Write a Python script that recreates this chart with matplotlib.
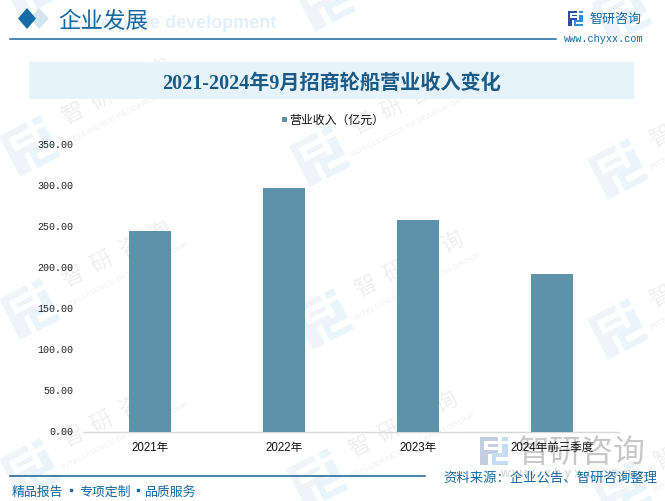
import matplotlib
matplotlib.use('Agg')
import matplotlib.pyplot as plt
from matplotlib.patches import Polygon, Rectangle
from matplotlib.transforms import Affine2D, ScaledTranslation

plt.rcParams['font.family'] = ['Noto Sans CJK SC', 'DejaVu Sans']

categories = ['2021年', '2022年', '2023年', '2024年前三季度']
revenue = [243.5, 297, 258, 192.3]
y_ticks = [0, 50, 100, 150, 200, 250, 300, 350]
legend_name = '营业收入（亿元）'
title = '2021-2024年9月招商轮船营业收入变化'

# logo centres of the faint repeated watermark
marks = [(30, 147), (320, 157), (618, 170),
         (30, 310), (323, 320), (618, 330),
         (30, 470), (317, 480), (622, 492)]
top_logos = [(30, -12), (325, 2), (622, 14)]

BLUE = '#15689f'
BAR = '#5e92aa'

fig = plt.figure(figsize=(6.65, 5.02), dpi=100)
bg = fig.add_axes([0, 0, 1, 1])
bg.set_xlim(0, 665)
bg.set_ylim(502, 0)
bg.axis('off')


def logo(x, y, s, c1, c2, rot=0, z=1):
    # brand mark: dark bracket on the left, lighter pieces on the right
    tr = Affine2D().translate(-.5, -.5).scale(s).rotate_deg(rot).translate(x, y) + bg.transData
    left = [[(0, 0), (.66, 0), (.66, .14), (.16, .14), (.16, .46), (.66, .46), (.66, .6), (.3, .6), (.3, 1), (0, 1)],
            [(.28, .26), (.66, .26), (.66, .36), (.28, .36)]]
    right = [[(.78, 0), (1, 0), (1, .16), (.78, .16)],
             [(.78, .26), (1, .26), (1, .72), (.56, .72), (.56, .86), (1, .86), (1, 1), (.42, 1), (.42, .58), (.78, .58)]]
    for p in left:
        bg.add_patch(Polygon(p, closed=True, fc=c1, ec='none', transform=tr, zorder=z))
    for p in right:
        bg.add_patch(Polygon(p, closed=True, fc=c2, ec='none', transform=tr, zorder=z))


for mx, my in top_logos:
    logo(mx, my, 46, '#f0f4f8', '#eaf5fb', rot=-27)
for mx, my in marks:
    logo(mx, my, 46, '#f0f4f8', '#eaf5fb', rot=-27)
    bg.text(mx + 87, my - 55, '智  研  咨  询', fontsize=16, color='#efefef', rotation=27, ha='center', va='center',
            zorder=1, rotation_mode='anchor')
    bg.text(mx + 95, my - 33, 'INTELLIGENCE RESEARCH GROUP', fontsize=6, color='#f0f0f0', rotation=27,
            ha='center', va='center', family='Liberation Sans', zorder=1, rotation_mode='anchor')

# header
bg.add_patch(Polygon([(39, 9), (49, 19.5), (39, 30), (30, 19.5)], fc='#d5e5ef', ec='none', zorder=2))
bg.add_patch(Polygon([(27, 9), (36, 19.5), (27, 30), (18, 19.5)], fc='#136ca6', ec='none', zorder=3))
bg.text(276, 24, 'Enterprise development', fontsize=13, color='#e3f0fa', fontweight='bold',
        family='Liberation Sans', ha='right', va='center', zorder=2)
bg.text(58, 21.5, '企业发展', fontsize=16.2, color=BLUE, va='center', zorder=3)
bg.plot([10, 556], [40, 40], color=BLUE, lw=1.1, zorder=3)
logo(575, 19.5, 15, '#2b4f9e', '#2f8fd6', z=3)
bg.text(590, 19, '智研咨询', fontsize=9.4, color=BLUE, va='center', zorder=3)
bg.text(604, 39, 'www.chyxx.com', fontsize=7.3, color=BLUE, family='Liberation Mono', ha='center', va='center', zorder=3)

# title band
bg.add_patch(Rectangle((29, 63), 605, 37, fc='#e6f3fb', ec='none', zorder=2))
bg.text(331.5, 84, title, fontsize=14.5, color='#1b5a86', fontweight='bold', ha='center', va='center', zorder=3,
        family=['Liberation Serif', 'Noto Sans CJK SC'])

# footer
bg.plot([10, 425], [477, 477], color='#15608f', lw=1.1, zorder=3)
for fx, part in zip([12, 79, 145], ['精品报告', '专项定制', '品质服务']):
    bg.text(fx, 492, part, fontsize=9.3, color=BLUE, va='center', zorder=3)
for fx in [71, 138]:
    bg.plot([fx], [491], marker='s', ms=1.6, color=BLUE, zorder=3)
logo(494, 452, 28, '#c3cfe0', '#c5def2', z=2)
bg.text(518, 453, '智研咨询', fontsize=23, color='#c8c8c8', va='center', zorder=2)
bg.text(566, 474, 'w w w . c h y x x . c o m', fontsize=9, color='#cfcfcf', family='Liberation Sans', ha='center', va='center', zorder=2)
bg.text(443, 478, '资料来源：企业公告、智研咨询整理', fontsize=9.6, color=BLUE, va='center', zorder=3)

# chart
ax = fig.add_axes([83 / 665, 1 - 432.5 / 502, 536 / 665, 287.5 / 502])
ax.patch.set_alpha(0)
ax.bar(categories, revenue, width=0.313, color=BAR, zorder=3)
ax.set_xlim(-0.5, 3.5)
ax.set_ylim(0, 350)
ax.set_yticks(y_ticks)
ax.set_yticklabels(['%.2f' % v for v in y_ticks], family='Liberation Mono', fontsize=7.2, color='#222222')
ax.tick_params(axis='both', length=0)
ax.tick_params(axis='y', pad=7)
ax.tick_params(axis='x', pad=7)
up = ScaledTranslation(0, 1 / 100, fig.dpi_scale_trans)
for lab in ax.get_yticklabels():
    lab.set_transform(lab.get_transform() + up)
for lab in ax.get_xticklabels():
    lab.set_fontsize(8.3)
    lab.set_family(['Liberation Sans', 'Noto Sans CJK SC'])
    lab.set_color('#111111')
for side in ['top', 'right', 'left']:
    ax.spines[side].set_visible(False)
ax.spines['bottom'].set_color('#d9d9d9')
ax.spines['bottom'].set_linewidth(1)

bg.add_patch(Rectangle((282, 118), 5, 5, fc=BAR, ec='none', zorder=3))
bg.text(289, 120, legend_name, fontsize=8.6, color='#111111', va='center', zorder=3)

fig.savefig('out.png', dpi=100)
